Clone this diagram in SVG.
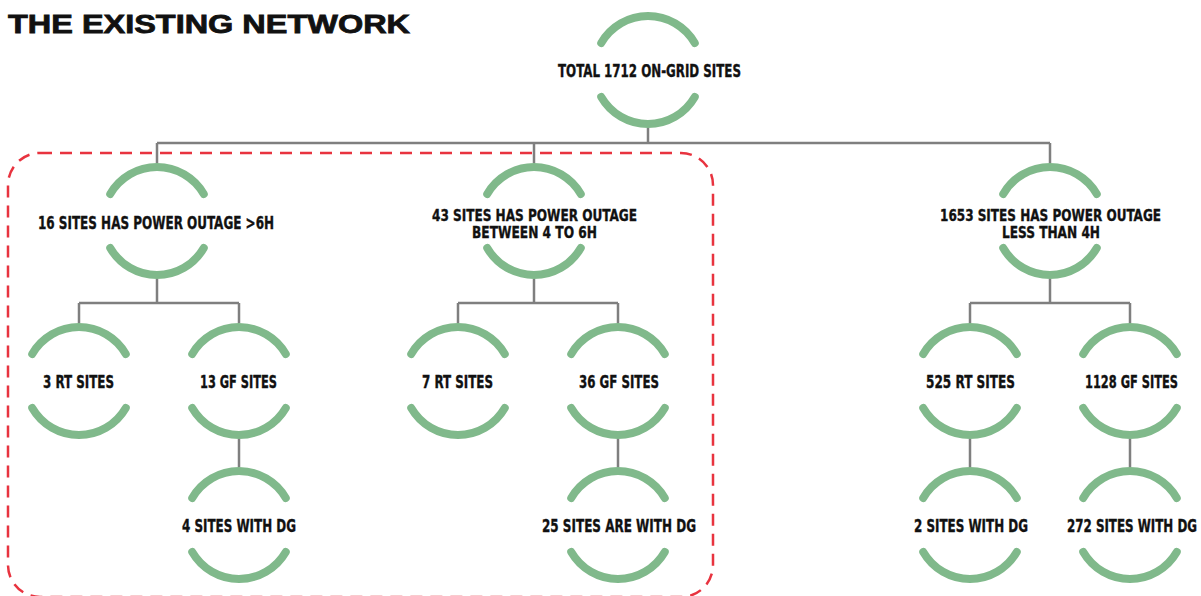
<svg xmlns="http://www.w3.org/2000/svg" xmlns:xlink="http://www.w3.org/1999/xlink" width="1201" height="596" viewBox="0 0 1201 596">
<style>
.ring{fill:none;stroke:#80b98b;stroke-width:8;stroke-linecap:round}
.conn{fill:none;stroke:#7f7f7f;stroke-width:2.5}
.lbl{font-family:"DejaVu Sans Condensed","Liberation Sans Narrow","Roboto",sans-serif;font-stretch:condensed;font-weight:bold;font-size:17px;fill:#111;stroke:#111;stroke-width:0.35;text-anchor:middle}
.two{font-size:16px}
.title{font-family:"Liberation Sans","Arial",sans-serif;font-weight:bold;font-size:26px;fill:#111;stroke:#111;stroke-width:0.8}
.frame{fill:none;stroke:#e8333f;stroke-width:2.5;stroke-dasharray:12 8}
</style>
<defs>
<g id="ring">
<path class="ring" d="M-46.77,-27 A54,54 0 0 1 46.77,-27"/>
<path class="ring" d="M-46.77,27 A54,54 0 0 0 46.77,27"/>
</g>
</defs>
<rect id="background" x="0" y="0" width="1201" height="596" fill="#ffffff"/>
<text class="title" x="8" y="33" textLength="402" lengthAdjust="spacingAndGlyphs">THE EXISTING NETWORK</text>
<rect class="frame" x="8" y="153" width="705" height="444" rx="32" ry="32"/>
<g id="connectors">
<path class="conn" d="M648,128 V143 M157,143 H1050 M157,143 V163 M534,143 V163 M1050,143 V163"/>
<path class="conn" d="M157,279 V303 M79,303 H239 M79,303 V323 M239,303 V323"/>
<path class="conn" d="M534,279 V303 M458,303 H618 M458,303 V323 M618,303 V323"/>
<path class="conn" d="M1050,279 V303 M970,303 H1130 M970,303 V323 M1130,303 V323"/>
<path class="conn" d="M239,439 V467 M618,439 V467 M970,439 V467 M1130,439 V467"/>
</g>
<g id="n-total"><use xlink:href="#ring" transform="translate(648,70)"/><text class="lbl" x="649.5" y="77" textLength="183" lengthAdjust="spacingAndGlyphs">TOTAL 1712 ON-GRID SITES</text></g>
<g id="n-16"><use xlink:href="#ring" transform="translate(157,221)"/><text class="lbl" x="156" y="229" textLength="236" lengthAdjust="spacingAndGlyphs">16 SITES HAS POWER OUTAGE &gt;6H</text></g>
<g id="n-43"><use xlink:href="#ring" transform="translate(534,221)"/><text class="lbl two" x="534.5" y="220.5" textLength="205" lengthAdjust="spacingAndGlyphs">43 SITES HAS POWER OUTAGE</text><text class="lbl two" x="534.5" y="238" textLength="125" lengthAdjust="spacingAndGlyphs">BETWEEN 4 TO 6H</text></g>
<g id="n-1653"><use xlink:href="#ring" transform="translate(1050,221)"/><text class="lbl two" x="1050.5" y="220.5" textLength="221" lengthAdjust="spacingAndGlyphs">1653 SITES HAS POWER OUTAGE</text><text class="lbl two" x="1051" y="238" textLength="98" lengthAdjust="spacingAndGlyphs">LESS THAN 4H</text></g>
<g id="n-3rt"><use xlink:href="#ring" transform="translate(79,381)"/><text class="lbl" x="78.5" y="388" textLength="71" lengthAdjust="spacingAndGlyphs">3 RT SITES</text></g>
<g id="n-13gf"><use xlink:href="#ring" transform="translate(239,381)"/><text class="lbl" x="238.5" y="388" textLength="77" lengthAdjust="spacingAndGlyphs">13 GF SITES</text></g>
<g id="n-7rt"><use xlink:href="#ring" transform="translate(458,381)"/><text class="lbl" x="457.5" y="388" textLength="71" lengthAdjust="spacingAndGlyphs">7 RT SITES</text></g>
<g id="n-36gf"><use xlink:href="#ring" transform="translate(618,381)"/><text class="lbl" x="619" y="388" textLength="80" lengthAdjust="spacingAndGlyphs">36 GF SITES</text></g>
<g id="n-525rt"><use xlink:href="#ring" transform="translate(970,381)"/><text class="lbl" x="970.5" y="388" textLength="89" lengthAdjust="spacingAndGlyphs">525 RT SITES</text></g>
<g id="n-1128gf"><use xlink:href="#ring" transform="translate(1130,381)"/><text class="lbl" x="1131.5" y="388" textLength="93" lengthAdjust="spacingAndGlyphs">1128 GF SITES</text></g>
<g id="n-4dg"><use xlink:href="#ring" transform="translate(239,525)"/><text class="lbl" x="239" y="532" textLength="114" lengthAdjust="spacingAndGlyphs">4 SITES WITH DG</text></g>
<g id="n-25dg"><use xlink:href="#ring" transform="translate(618,525)"/><text class="lbl" x="619" y="532" textLength="154" lengthAdjust="spacingAndGlyphs">25 SITES ARE WITH DG</text></g>
<g id="n-2dg"><use xlink:href="#ring" transform="translate(970,525)"/><text class="lbl" x="971" y="532" textLength="114" lengthAdjust="spacingAndGlyphs">2 SITES WITH DG</text></g>
<g id="n-272dg"><use xlink:href="#ring" transform="translate(1130,525)"/><text class="lbl" x="1132" y="532" textLength="130" lengthAdjust="spacingAndGlyphs">272 SITES WITH DG</text></g>
</svg>
